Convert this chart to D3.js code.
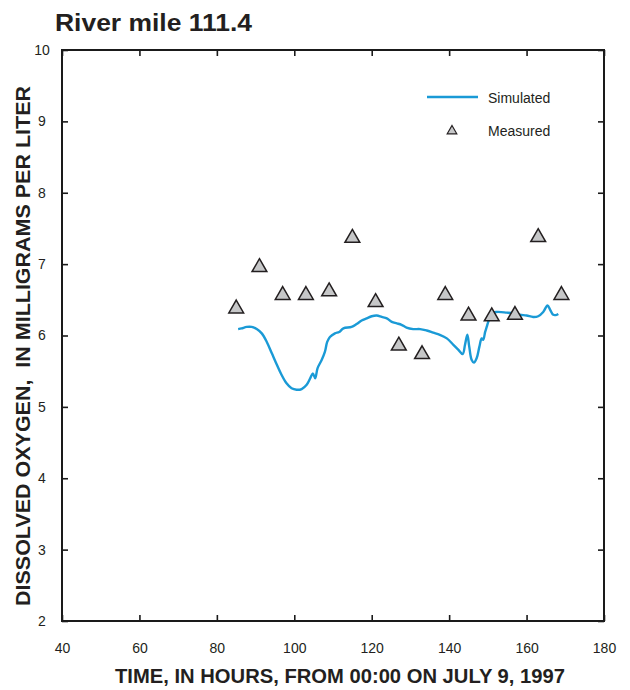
<!DOCTYPE html>
<html>
<head>
<meta charset="utf-8">
<script src="https://cdn.jsdelivr.net/npm/d3@7"></script>
<style>
html,body{margin:0;padding:0;background:#fff;}
svg{display:block;font-family:"Liberation Sans",Arial,Helvetica,sans-serif;}
</style>
</head>
<body>
<svg id="chart" width="630" height="690"></svg>
<script>
// ---- data ----
const simHours = [85.5,86.4,87.7,89.0,90.3,91.6,92.9,94.2,95.5,96.7,98.0,99.3,100.6,101.9,103.2,104.1,104.8,105.4,106.0,107.1,107.9,108.5,109.2,110.5,111.6,112.7,114.8,116.1,117.4,118.7,120.0,121.3,122.6,123.9,125.2,126.5,127.7,129.0,130.7,132.5,134.2,135.9,137.6,139.4,141.1,142.4,143.5,144.1,144.7,145.2,145.8,146.4,147.1,147.8,148.4,148.8,149.3,149.7,150.1,151.0,152.3,154.9,156.6,158.3,160.0,161.7,163.0,164.3,165.4,166.1,166.9,167.8,168.2];
const simValues = [6.09,6.10,6.12,6.12,6.09,6.03,5.91,5.75,5.59,5.45,5.33,5.26,5.24,5.25,5.31,5.40,5.47,5.40,5.54,5.66,5.77,5.91,5.98,6.03,6.05,6.10,6.12,6.16,6.21,6.24,6.27,6.28,6.26,6.24,6.19,6.17,6.15,6.11,6.09,6.09,6.07,6.04,6.01,5.96,5.87,5.80,5.74,5.87,6.01,5.84,5.66,5.62,5.68,5.84,5.96,5.94,6.05,6.12,6.19,6.31,6.33,6.32,6.31,6.29,6.28,6.26,6.27,6.33,6.42,6.36,6.29,6.29,6.30];
const measHours = [85,91,97,103,109,115,121,127,133,139,145,151,157,163,169];
const measValues = [6.39,6.97,6.58,6.58,6.63,7.38,6.48,5.87,5.75,6.58,6.29,6.28,6.30,7.39,6.58];
const xTicks = [40,60,80,100,120,140,160,180];
const yTicks = [2,3,4,5,6,7,8,9,10];
const titleText = "River mile 111.4";
const xTitle = "TIME, IN HOURS, FROM 00:00 ON JULY 9, 1997";
const yTitle = "DISSOLVED OXYGEN,\u00A0 IN MILLIGRAMS PER LITER";
const legendLabels = ["Simulated","Measured"];

// ---- layout ----
const L = 62, R = 604, T = 50, B = 621;
const svg = d3.select("#chart");
const x = d3.scaleLinear().domain([40,180]).range([L,R]);
const y = d3.scaleLinear().domain([2,10]).range([B,T]);
const axisColor = "#1a1a1a";
const textColor = "#231f20";
const lineColor = "#1a9ad6";

// title
svg.append("text").attr("x",55).attr("y",31)
  .attr("font-size",23).attr("font-weight","bold").attr("fill",textColor)
  .attr("textLength",197).attr("lengthAdjust","spacingAndGlyphs")
  .text(titleText);

// axes with inward ticks
const tickLen = 6;
const gB = svg.append("g").attr("transform",`translate(0,${B})`)
  .call(d3.axisBottom(x).tickValues(xTicks).tickSize(-tickLen).tickPadding(tickLen+16).tickFormat(d3.format("d")));
const gT = svg.append("g").attr("transform",`translate(0,${T})`)
  .call(d3.axisTop(x).tickValues(xTicks).tickSize(-tickLen).tickFormat(""));
const gL = svg.append("g").attr("transform",`translate(${L},0)`)
  .call(d3.axisLeft(y).tickValues(yTicks).tickSize(-tickLen).tickPadding(tickLen+14).tickFormat(d3.format("d")));
const gR = svg.append("g").attr("transform",`translate(${R},0)`)
  .call(d3.axisRight(y).tickValues(yTicks).tickSize(-tickLen).tickFormat(""));
[gB,gT,gL,gR].forEach(g=>{
  g.select(".domain").remove();
  g.selectAll(".tick line").attr("stroke",axisColor).attr("stroke-width",1.6);
  g.selectAll(".tick text").attr("font-size",14).attr("fill",textColor).attr("font-family","Liberation Sans, Arial, sans-serif");
});
gL.selectAll(".tick text").attr("text-anchor","middle").attr("x",-20);
// frame
svg.append("rect").attr("x",L).attr("y",T).attr("width",R-L).attr("height",B-T)
  .attr("fill","none").attr("stroke",axisColor).attr("stroke-width",2);

// axis titles
svg.append("text").attr("x",340).attr("y",683).attr("text-anchor","middle")
  .attr("font-size",20).attr("font-weight","bold").attr("fill",textColor)
  .attr("textLength",450).attr("lengthAdjust","spacingAndGlyphs").text(xTitle);
svg.append("text").attr("transform",`translate(30,346) rotate(-90)`).attr("text-anchor","middle")
  .attr("font-size",20).attr("font-weight","bold").attr("fill",textColor)
  .attr("textLength",520).attr("lengthAdjust","spacingAndGlyphs").text(yTitle);

// simulated line
const simData = simHours.map((h,i)=>[h,simValues[i]]);
svg.append("path").datum(simData)
  .attr("fill","none").attr("stroke",lineColor).attr("stroke-width",2.4)
  .attr("stroke-linejoin","round")
  .attr("d",d3.line().x(d=>x(d[0])).y(d=>y(d[1])).curve(d3.curveCatmullRom.alpha(0.5)));

// measured triangles
const tri = (s)=>d3.symbol().type(d3.symbolTriangle).size(s);
svg.append("g").selectAll("path").data(measHours.map((h,i)=>[h,measValues[i]])).join("path")
  .attr("transform",d=>`translate(${x(d[0])},${y(d[1])+1})`)
  .attr("d",tri(95)())
  .attr("fill","#c6c7c8").attr("stroke",textColor).attr("stroke-width",1.5);

// legend
const lg = svg.append("g");
lg.append("line").attr("x1",427).attr("x2",478).attr("y1",97).attr("y2",97)
  .attr("stroke",lineColor).attr("stroke-width",2.4);
lg.append("text").attr("x",488).attr("y",103).attr("font-size",14).attr("fill",textColor).text(legendLabels[0]);
lg.append("path").attr("transform","translate(452,131)").attr("d",tri(40)())
  .attr("fill","#c6c7c8").attr("stroke",textColor).attr("stroke-width",1.2);
lg.append("text").attr("x",488).attr("y",136).attr("font-size",14).attr("fill",textColor).text(legendLabels[1]);
</script>
</body>
</html>
